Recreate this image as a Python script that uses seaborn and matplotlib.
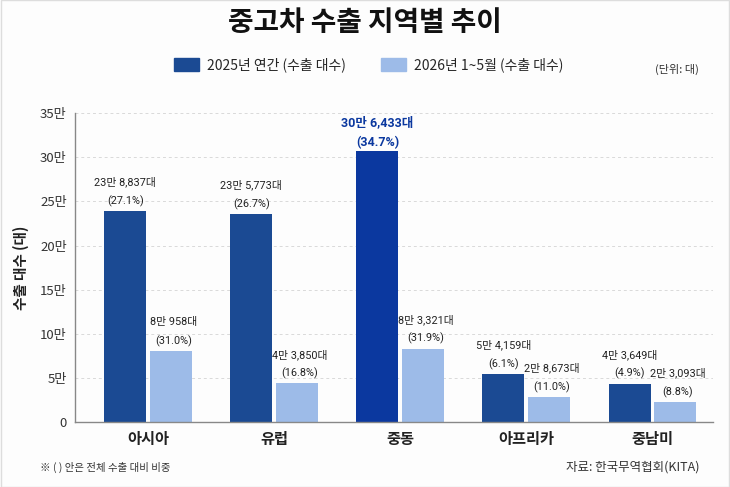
import matplotlib
matplotlib.use("Agg")
import matplotlib.pyplot as plt
import matplotlib.patches as mpatches
import seaborn as sns
import pandas as pd

regions = ["아시아", "유럽", "중동", "아프리카", "중남미"]
periods = ["2025년 연간 (수출 대수)", "2026년 1~5월 (수출 대수)"]
units_2025 = [238837, 235773, 306433, 54159, 43649]
units_2026 = [80958, 43850, 83321, 28673, 23093]
share_2025 = [27.1, 26.7, 34.7, 6.1, 4.9]
share_2026 = [31.0, 16.8, 31.9, 11.0, 8.8]
yticks = [0, 50000, 100000, 150000, 200000, 250000, 300000, 350000]

DARK = "#1b4a93"
HIGHLIGHT = "#0b389f"
LIGHT = "#9dbbe8"

sns.set_style("white")
plt.rcParams["font.family"] = ["Noto Sans CJK KR", "DejaVu Sans"]
LABEL_FONT = ["Roboto", "Noto Sans CJK KR"]


def fmt_units(v):
    man, rest = divmod(v, 10000)
    return f"{man}만 {rest:,}대"


def fmt_tick(v):
    return "0" if v == 0 else f"{v // 10000}만"


df = pd.DataFrame({
    "region": regions * 2,
    "period": [periods[0]] * 5 + [periods[1]] * 5,
    "units": units_2025 + units_2026,
})

fig = plt.figure(figsize=(7.3, 4.87), dpi=100)
fig.patch.set_facecolor("#fdfdfd")
ax = fig.add_axes([0.103, 0.133, 0.874, 0.635])
ax.set_facecolor("#fdfdfd")

sns.barplot(data=df, x="region", y="units", hue="period",
            palette=[DARK, LIGHT], saturation=1, width=0.722, gap=0.077,
            linewidth=0, legend=False, ax=ax)

# highlight the largest region
ax.containers[0][2].set_facecolor(HIGHLIGHT)

for ci, (vals, shares) in enumerate([(units_2025, share_2025), (units_2026, share_2026)]):
    for i, bar in enumerate(ax.containers[ci]):
        x = bar.get_x() + bar.get_width() / 2
        h = bar.get_height()
        hi = (ci == 0 and i == 2)
        ax.annotate(f"{fmt_units(vals[i])}\n({shares[i]:.1f}%)", (x, h),
                    xytext=(1.8 * ci, 2 if hi else 3), textcoords="offset points",
                    ha="center", va="bottom", fontsize=9 if hi else 7.8,
                    linespacing=1.6 if hi else 1.9, family=LABEL_FONT,
                    color=HIGHLIGHT if hi else "#222222",
                    fontweight="bold" if hi else "normal", zorder=5)

ax.set_ylim(0, 350000)
ax.set_xlim(-0.577, 4.483)
ax.set_yticks(yticks)
ax.set_yticklabels([fmt_tick(v) for v in yticks], fontsize=9.5, color="#333333")
ax.set_xticks(range(len(regions)))
ax.set_xticklabels(regions, fontsize=11, fontweight="bold", color="#222222")
ax.tick_params(axis="both", length=0, pad=6)
ax.set_xlabel("")
ax.set_ylabel("수출 대수 (대)", fontsize=10.5, fontweight="bold", color="#222222", labelpad=8)
ax.yaxis.grid(True, linestyle=(0, (3, 3)), color="#d9d9d9", linewidth=0.7)
ax.set_axisbelow(True)
for s in ["top", "right"]:
    ax.spines[s].set_visible(False)
for s in ["left", "bottom"]:
    ax.spines[s].set_color("#888888")
    ax.spines[s].set_linewidth(1)

fig.text(0.5, 0.952, "중고차 수출 지역별 추이", ha="center", va="center",
         fontsize=20, fontweight="bold", color="#111111")

handles = [mpatches.Patch(color=DARK, label=periods[0]),
           mpatches.Patch(color=LIGHT, label=periods[1])]
fig.legend(handles=handles, loc="center", bbox_to_anchor=(0.505, 0.867), ncol=2,
           frameon=False, fontsize=10, handlelength=1.8, handleheight=1.1,
           columnspacing=2.5, handletextpad=0.6)
fig.text(0.958, 0.857, "(단위: 대)", ha="right", va="center", fontsize=8, color="#333333")

fig.text(0.055, 0.04, "※ ( ) 안은 전체 수출 대비 비중", ha="left", va="center",
         fontsize=7.5, color="#333333")
fig.text(0.958, 0.04, "자료: 한국무역협회(KITA)", ha="right", va="center",
         fontsize=9, color="#333333")

fig.add_artist(mpatches.Rectangle((0.001, 0.001), 0.998, 0.998, transform=fig.transFigure,
                                  fill=False, edgecolor="#dddddd", linewidth=1))

fig.savefig("out.png", dpi=100, facecolor=fig.get_facecolor())
